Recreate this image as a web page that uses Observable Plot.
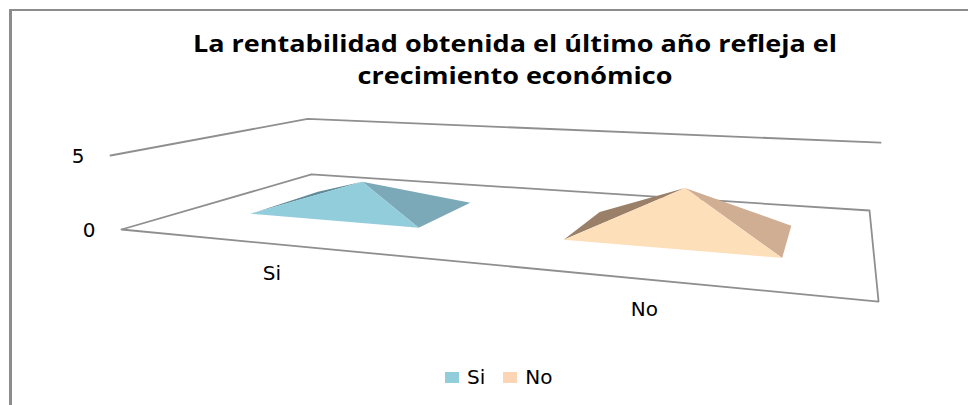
<!DOCTYPE html>
<html lang="es">
<head>
<meta charset="utf-8">
<script src="https://cdn.jsdelivr.net/npm/d3@7"></script>
<script src="https://cdn.jsdelivr.net/npm/@observablehq/plot@0.6"></script>
<style>
  html, body { margin: 0; background: #fff; }
  body { width: 968px; height: 405px; overflow: hidden; position: relative;
         font-family: "DejaVu Sans", sans-serif; color: #000; }
  .frame { position: absolute; left: 9px; top: 9px; right: 0; bottom: 0;
           border-top: 2px solid #8c8c8c; border-left: 3px solid #8c8c8c; }
  .title { height: 100px; box-sizing: border-box; padding-top: 27px; width: 1030px;
           text-align: center; font-family: "Open Sans", sans-serif; font-size: 23px;
           line-height: 32px; font-weight: 700; transform: scaleX(1.175); transform-origin: 515px 0; }
  #chart { height: 240px; }
  #chart svg { display: block; }
  .legend { display: flex; position: absolute; left: 445px; top: 365px;
            font-size: 20px; line-height: 24px; align-items: center; }
  .legend span { display: flex; align-items: center; }
  .legend i { width: 14px; height: 11px; margin-right: 8px; display: block; }
  .legend span + span { margin-left: 18px; }
</style>
</head>
<body>
<div class="frame"></div>
<div class="title">La rentabilidad obtenida el último año refleja el<br>crecimiento económico</div>
<div id="chart"></div>
<div class="legend" id="legend"></div>
<script>
// Chart values
const categories = ["Si", "No"];
const values = [2, 3];
const valueTicks = [0, 5];

// Face colours per category: front, right side, left side
const frontColors = ["#92cddc", "#fddfb9"];
const rightColors = ["#7ba9b7", "#cfae93"];
const leftColors = ["#5f8a98", "#9a8069"];
const legendColors = ["#92cddc", "#fcd5b5"];
const wallColor = "#8f8f8f";

// Perspective view of the plot box: u runs along the categories, v into the
// depth and w up the value axis, each from 0 to 1.
const maxValue = valueTicks[valueTicks.length - 1];
function project(u, v, w) {
  const d = 1 - 0.2562 * u + 0.3525 * v - 0.03 * w;
  return {
    x: (121 + 532.1 * u + 299.6 * v - 14.3 * w) / d,
    y: (229 - 5.1 * u + 6.3 * v - 78.65 * w) / d
  };
}

// Each pyramid sits in the middle of its category band
const halfU = 0.142, halfV = 0.194;
function faces(i) {
  const u = (i + 0.5) / categories.length;
  const v = 0.5;
  const corner = (su, sv) => project(u + su * halfU, v + sv * halfV, 0);
  const apex = project(u, v, values[i] / maxValue);
  const fl = corner(-1, -1), fr = corner(1, -1), br = corner(1, 1), bl = corner(-1, 1);
  return [
    {points: [bl, apex, fl], fill: leftColors[i]},
    {points: [fr, apex, br], fill: rightColors[i]},
    {points: [fl, apex, fr], fill: frontColors[i]}
  ];
}

const floorEdge = [[0, 0], [1, 0], [1, 1], [0, 1], [0, 0]].map(([u, v]) => project(u, v, 0));
const wallEdge = [[0, 0], [0, 1], [1, 1]].map(([u, v]) => project(u, v, 1));

const tickLabels = valueTicks.map((t) => ({...project(0, 0, t / maxValue), t}));
const categoryLabels = categories.map((c, i) => ({...project((i + 0.5) / categories.length, 0, 0), c}));

const stroke = {x: "x", y: "y", stroke: wallColor, strokeWidth: 1.8};
const plot = Plot.plot({
  width: 968,
  height: 240,
  margin: 0,
  x: {domain: [0, 968], range: [0, 968], axis: null},
  y: {domain: [100, 340], range: [0, 240], axis: null},
  marks: [
    Plot.line(wallEdge, stroke),
    Plot.line(floorEdge, stroke),
    ...categories.flatMap((c, i) => faces(i).map((f) =>
      Plot.line(f.points, {x: "x", y: "y", fill: f.fill, stroke: "none"}))),
    Plot.text(tickLabels, {
      x: "x", y: "y", text: (d) => String(d.t), dx: -26, dy: 1, textAnchor: "end",
      fontSize: 20, fontFamily: "DejaVu Sans", fill: "#000"
    }),
    Plot.text(categoryLabels, {
      x: "x", y: "y", text: "c", dy: 30,
      fontSize: 20, fontFamily: "DejaVu Sans", fill: "#000"
    })
  ]
});
document.getElementById("chart").append(plot);

// Legend row under the chart
const legend = document.getElementById("legend");
categories.forEach((c, i) => {
  const item = document.createElement("span");
  const swatch = document.createElement("i");
  swatch.style.background = legendColors[i];
  item.append(swatch, c);
  legend.append(item);
});
</script>
</body>
</html>
